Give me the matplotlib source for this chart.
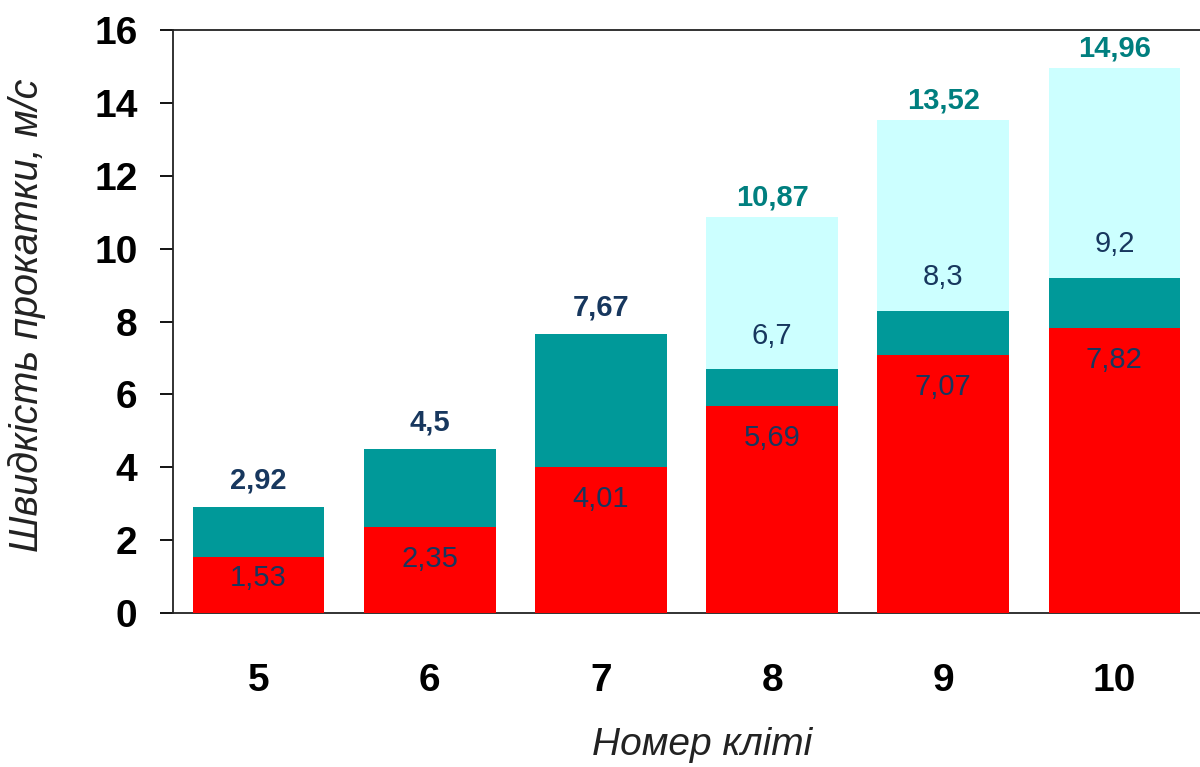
import matplotlib
matplotlib.use("Agg")
import matplotlib.pyplot as plt
import numpy as np

# stand numbers and rolling speeds, m/s
stands = ["5", "6", "7", "8", "9", "10"]
speed_low = [1.53, 2.35, 4.01, 5.69, 7.07, 7.82]
speed_mid = [2.92, 4.5, 7.67, 6.7, 8.3, 9.2]
speed_high = [None, None, None, 10.87, 13.52, 14.96]

red = "#FF0000"
teal = "#009999"
cyan = "#CCFFFF"
navy = "#17375E"
teal_txt = "#007F7F"

plt.rcParams["font.family"] = ["Liberation Sans", "DejaVu Sans"]

fig = plt.figure(figsize=(12, 7.67), dpi=100)
ax = fig.add_axes([173 / 1200, 1 - 613 / 767, 1 - 173 / 1200, (613 - 30) / 767])

x = np.arange(len(stands))
w = 0.77

def fmt(v):
    return f"{v:g}".replace(".", ",")

# back: light cyan
for i, v in enumerate(speed_high):
    if v is None:
        continue
    ax.bar(x[i], v, width=w, color=cyan, zorder=1)
    ax.annotate(fmt(v), (x[i], v), xytext=(0, 14), textcoords="offset points",
                ha="center", va="center", fontsize=21, fontweight="bold", color=teal_txt)

# middle: teal
ax.bar(x, speed_mid, width=w, color=teal, zorder=2)
for i, v in enumerate(speed_mid):
    if speed_high[i] is None:
        ax.annotate(fmt(v), (x[i], v), xytext=(0, 19), textcoords="offset points",
                    ha="center", va="center", fontsize=21, fontweight="bold", color=navy)
    else:
        ax.annotate(fmt(v), (x[i], v), xytext=(0, 24), textcoords="offset points",
                    ha="center", va="center", fontsize=21, color=navy)

# front: red
ax.bar(x, speed_low, width=w, color=red, zorder=3)
for i, v in enumerate(speed_low):
    off = -15 if v < 2 else -23
    ax.annotate(fmt(v), (x[i], v), xytext=(0, off), textcoords="offset points",
                ha="center", va="center", fontsize=21, color=navy, zorder=4)

ax.set_xlim(-0.5, 5.5)
ax.set_ylim(0, 16)
ax.set_yticks(range(0, 17, 2))
ax.set_xticks(x)
ax.set_xticklabels(stands)

for lbl in ax.get_yticklabels() + ax.get_xticklabels():
    lbl.set_fontweight("bold")
    lbl.set_fontsize(28)

ax.tick_params(axis="y", length=9.5, width=1.3, pad=16, direction="out")
ax.tick_params(axis="x", length=0, pad=36)

ax.spines["right"].set_visible(False)
for s in ["left", "top", "bottom"]:
    ax.spines[s].set_linewidth(1.3)
    ax.spines[s].set_color("#222222")

ax.set_ylabel("Швидкість прокатки, м/с", fontsize=28.5, fontstyle="italic",
              color="#222222", va="center")
ax.yaxis.set_label_coords(-0.142, 0.51)
ax.set_xlabel("Номер кліті", fontsize=28, fontstyle="italic",
              color="#222222", va="center")
ax.xaxis.set_label_coords(0.515, -0.226)

fig.savefig("out.png", dpi=100)
